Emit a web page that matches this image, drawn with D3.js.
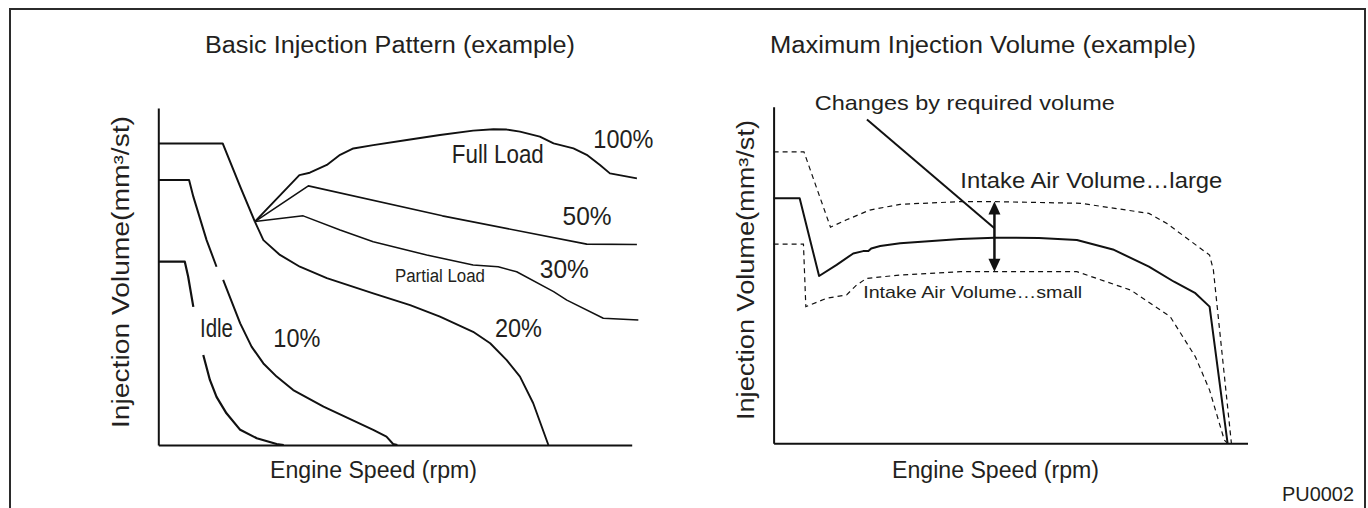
<!DOCTYPE html>
<html><head><meta charset="utf-8">
<script src="https://cdn.jsdelivr.net/npm/d3@7"></script>
<style>
body{margin:0;background:#fff}
svg{display:block}
text{font-family:"Liberation Sans",Arial,Helvetica,sans-serif;fill:#231f20}
</style>
</head><body>
<svg id="chart" width="1368" height="508"></svg>
<script>
// ---------- DATA (schematic, % of axis range) ----------
// Left panel: Basic Injection Pattern
const idleCurve = [[0,54.4],[5.6,54.4],[6.3,50.0],[7.4,41.0],null,[9.5,26.7],[10.9,19.3],[12.3,14.3],[14.4,9.4],[17.3,4.5],[20.8,2.0],[25.0,0.3],[26.5,0]];
const load10Curve = [[0,78.6],[6.5,78.6],[7.4,73.7],[10.2,60.8],[12.3,52.9],null,[13.7,49.0],[17.3,36.1],[19.7,29.2],[22.2,24.2],[25.0,20.3],[28.5,16.3],[34.9,11.4],[45.4,4.5],[48.2,2.5],[49.6,0.3],[50.5,0]];
const governorCurve = [[0,89.5],[13.6,89.5],[17.3,76.7],[20.4,66.3]];
const load20Curve = [[20.4,66.3],[22.2,60.8],[25.7,56.4],[29.9,52.9],[35.6,49.5],[45.4,45.0],[53.2,41.5],[59.5,38.1],[66.5,33.6],[70.1,30.2],[73.6,25.2],[76.4,20.3],[79.2,12.4],[82.4,0]];
const load30Curve = [[20.4,66.3],[30.6,68.0],[38.4,63.8],[45.4,60.3],[56.7,56.4],[66.5,53.4],[71.8,52.9],[75.7,51.4],[83.5,45.5],[86.3,43.0],[94.0,37.6],[101.4,37.1]];
const load50Curve = [[20.4,66.3],[31.7,76.9],[60,68.0],[90.5,59.6],[101.1,59.5]];
const fullLoadCurve = [[20.4,66.3],[29.8,80.1],[32.0,80.8],[35.6,83.1],[38.4,86.1],[41.2,88.0],[45.4,89.0],[52.5,90.5],[59.5,92.0],[66.5,93.3],[70.8,93.7],[73.6,93.6],[76.4,93.0],[80.6,91.5],[83.5,89.5],[87.7,88.0],[90.5,86.1],[93.3,83.1],[95.4,80.6],[101.1,79.1]];
const leftLabels = ["Idle","10%","20%","Partial Load","30%","50%","Full Load","100%"];

// Right panel: Maximum Injection Volume
const baseCurve = [[0,72.8],[5.5,72.8],[9.6,49.7],[13.3,53.0],[16.8,56.4],[18.9,57.1],[20.0,57.1],[20.6,57.9],[22.5,58.6],[26.7,59.4],[39.4,60.7],[46.6,61.1],[56,61.0],[64.0,60.4],[71.6,57.6],[79.2,52.5],[84.5,48.0],[89.0,44.6],[92.0,40.6],[95.8,0]];
const largeAirCurve = [[0,86.6],[6.4,86.6],[12.0,64.2],[15.4,66.4],[20.3,69.3],[26.7,71.0],[39.4,71.8],[46.6,71.8],[64.8,71.3],[79.2,68.3],[83.0,65.3],[92.0,55.9],[92.8,51.5],[96.6,0]];
const smallAirCurve = [[0,59.2],[6.3,59.2],[6.8,40.6],[11.2,43.1],[15.4,44.1],[17.5,47.0],[19.6,49.0],[26.7,50.0],[39.4,51.0],[64.0,51.0],[75.4,45.5],[83.7,37.6],[89.0,25.7],[92.0,15.8],[95.1,1.0],[95.8,0]];
const arrowRange = [46.6, 51.0, 71.8];       // x, bottom, top
const leaderLine = [[19.7,96.2],[46.6,63.9]];
const rightLabels = ["Changes by required volume","Intake Air Volume\u2026large","Intake Air Volume\u2026small"];

const titles = ["Basic Injection Pattern (example)","Maximum Injection Volume (example)"];
const xTitle = "Engine Speed (rpm)";
const yTitle = "Injection Volume(mm\u00B3/st)";
const codeLabel = "PU0002";

// ---------- DRAWING ----------
const svg = d3.select("#chart");
svg.append("rect").attr("x",10).attr("y",9).attr("width",1355).attr("height",530)
  .attr("fill","none").attr("stroke","#2b2b2b").attr("stroke-width",2);

function txt(g, s, x, y, size, len, rot){
  const t = g.append("text").attr("x",x).attr("y",y).attr("font-size",size).text(s);
  if(len){ t.attr("textLength",len).attr("lengthAdjust","spacingAndGlyphs"); }
  if(rot){ t.attr("transform",`rotate(${rot},${x},${y})`); }
  return t;
}

function panel(xr, yr){
  const x = d3.scaleLinear().domain([0,100]).range(xr);
  const y = d3.scaleLinear().domain([0,100]).range(yr);
  const g = svg.append("g");
  g.append("g").attr("transform",`translate(0,${yr[0]})`)
    .call(d3.axisBottom(x).ticks(0).tickSizeOuter(0));
  g.append("g").attr("transform",`translate(${xr[0]},0)`)
    .call(d3.axisLeft(y).ticks(0).tickSizeOuter(0));
  g.selectAll(".domain").attr("stroke","#111").attr("stroke-width",2);
  const line = d3.line().defined(d=>d!==null).x(d=>x(d[0])).y(d=>y(d[1]));
  return {x,y,g,line};
}

// Left panel
const L = panel([158.3,631.7],[445,108]);
const drawL = (data,w)=>L.g.append("path").attr("d",L.line(data)).attr("fill","none")
  .attr("stroke","#111").attr("stroke-width",w).attr("stroke-linejoin","round");
drawL(idleCurve,2.2);
drawL(load10Curve,2);
drawL(governorCurve,2);
drawL(load20Curve,1.9);
drawL(load30Curve,1.5);
drawL(load50Curve,1.6);
drawL(fullLoadCurve,1.9);

const lx=L.x, ly=L.y;
txt(L.g, leftLabels[0], lx(8.8), ly(32.1), 25, 33);
txt(L.g, leftLabels[1], lx(24.3), ly(29.2), 25, 47);
txt(L.g, leftLabels[2], lx(71.1), ly(32.1), 25, 47);
txt(L.g, leftLabels[3], lx(50.0), ly(48.5), 18, 90);
txt(L.g, leftLabels[4], lx(80.6), ly(49.5), 25, 49);
txt(L.g, leftLabels[5], lx(85.4), ly(65.3), 25, 49);
txt(L.g, leftLabels[6], lx(62.0), ly(83.6), 25, 92);
txt(L.g, leftLabels[7], lx(91.9), ly(88.0), 25, 60);

txt(svg, titles[0], 205, 53, 23.5, 370);
txt(svg, xTitle, 270, 478, 23, 207);
txt(svg, yTitle, 129, 428, 23, 312, -90);

// Right panel
const R = panel([773.6,1247.5],[443.3,106.7]);
const rx=R.x, ry=R.y;
R.g.append("path").attr("d",R.line(largeAirCurve)).attr("fill","none")
  .attr("stroke","#111").attr("stroke-width",1.2).attr("stroke-dasharray","5,4");
R.g.append("path").attr("d",R.line(smallAirCurve)).attr("fill","none")
  .attr("stroke","#111").attr("stroke-width",1.2).attr("stroke-dasharray","5,4");
R.g.append("path").attr("d",R.line(baseCurve)).attr("fill","none")
  .attr("stroke","#111").attr("stroke-width",2).attr("stroke-linejoin","round");
R.g.append("path").attr("d",R.line(leaderLine)).attr("fill","none")
  .attr("stroke","#111").attr("stroke-width",2);

// double arrow
const axp = rx(arrowRange[0]), yb = ry(arrowRange[1]), yt = ry(arrowRange[2]);
const ah = 13, aw = 6;
R.g.append("line").attr("x1",axp).attr("x2",axp).attr("y1",yt+ah-2).attr("y2",yb-ah+2)
  .attr("stroke","#111").attr("stroke-width",2.5);
R.g.append("path").attr("d",`M${axp},${yt} L${axp-aw},${yt+ah} L${axp+aw},${yt+ah} Z`).attr("fill","#111");
R.g.append("path").attr("d",`M${axp},${yb} L${axp-aw},${yb-ah} L${axp+aw},${yb-ah} Z`).attr("fill","#111");

txt(R.g, rightLabels[0], rx(8.7), ry(99.0), 21, 300);
txt(R.g, rightLabels[1], rx(39.4), ry(75.9), 22, 262);
txt(R.g, rightLabels[2], rx(18.9), ry(43.1), 17, 219);

txt(svg, titles[1], 770, 53, 23.5, 426);
txt(svg, xTitle, 892, 478, 23, 207);
txt(svg, yTitle, 754, 420, 23, 300, -90);

txt(svg, codeLabel, 1282, 501, 20, 72);
</script>
</body></html>
